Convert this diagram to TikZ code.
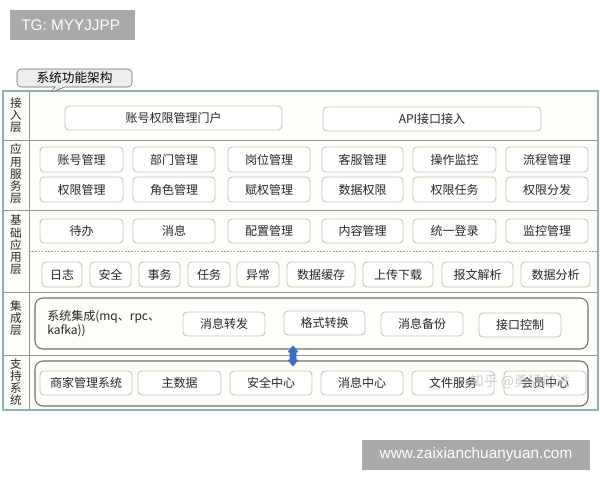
\documentclass[tikz,border=0pt]{standalone}
\usepackage{fontspec}
\setmainfont{Noto Sans CJK SC}
\newfontfamily\wmfont{Liberation Sans}
\usetikzlibrary{shapes.callouts}
\definecolor{frameC}{HTML}{8FB3B3}
\definecolor{sepC}{HTML}{8A9A9A}
\definecolor{bxC}{HTML}{C9C8B4}
\definecolor{grpC}{HTML}{707070}
\definecolor{bgC}{HTML}{FDFDF9}
\definecolor{arrC}{HTML}{3A6CC0}
\definecolor{wmC}{HTML}{A9A9A9}
\tikzset{
  bx/.style={draw=bxC, line width=0.7pt, rounded corners=3pt, fill=white, inner sep=0pt, font=\fontsize{9}{10}\selectfont, text=black!85},
  grp/.style={draw=grpC, line width=0.8pt, rounded corners=6pt, inner sep=0pt},
  lyr/.style={font=\fontsize{8.7}{9.2}\selectfont, align=center, text=black!85, inner sep=0pt},
  wm/.style={fill=wmC, text=white, font=\wmfont\fontsize{11.5}{13}\selectfont, inner sep=0pt, anchor=north west},
  fatarrow/.style={fill=arrC, draw=arrC, line width=0.4pt, line join=round}
}
\newcommand\bxn[6]{\node[bx, minimum width={(#4-#2)*0.75pt}, minimum height={(#5-#3)*0.75pt}] (#1) at ({(#2+#4)/2},{(#3+#5)/2}) {#6};}
\newcommand\grpn[5]{\node[grp, minimum width={(#4-#2)*0.75pt}, minimum height={(#5-#3)*0.75pt}] (#1) at ({(#2+#4)/2},{(#3+#5)/2}) {};}
\begin{document}
\begin{tikzpicture}[x=0.75pt,y=-0.75pt]
\useasboundingbox (0,0) rectangle (600,480);
\fill[white] (0,0) rectangle (600,480);
% outer frame
\draw[frameC, line width=0.9pt, fill=bgC] (3,91) rectangle (598,410);
\draw[sepC, line width=0.6pt] (29,91) -- (29,410);
\foreach \yy in {140,210,292,355} \draw[sepC, line width=0.6pt] (3,\yy) -- (598,\yy);
\draw[sepC, line width=0.6pt, dash pattern=on 1.2pt off 1.2pt] (29,251) -- (598,251);
% title callout
\node[rectangle callout, callout absolute pointer={(50,93)}, draw=black!60, fill=black!7, rounded corners=3pt, minimum width=86.25pt, minimum height=13.5pt, inner sep=0pt, font=\fontsize{9.5}{10}\selectfont] (title) at (74.5,78) {系统功能架构};
% layer labels
\node[lyr] (l1) at (16,115) {接\\入\\层};
\node[lyr] (l2) at (16,174) {应\\用\\服\\务\\层};
\node[lyr] (l3) at (16,245) {基\\础\\应\\用\\层};
\node[lyr] (l4) at (16,318) {集\\成\\层};
\node[lyr] (l5) at (16,382) {支\\持\\系\\统};
% access layer
\bxn{a1}{65}{106}{282}{130}{账号权限管理门户}
\bxn{a2}{323}{107}{541}{131}{API接口接入}
% application service layer
\bxn{s1}{40}{147}{123}{172}{账号管理}
\bxn{s2}{133}{147}{215}{172}{部门管理}
\bxn{s3}{228}{147}{310}{172}{岗位管理}
\bxn{s4}{322}{147}{403}{172}{客服管理}
\bxn{s5}{413}{147}{496}{172}{操作监控}
\bxn{s6}{506}{147}{588}{172}{流程管理}
\bxn{s7}{40}{177}{123}{202}{权限管理}
\bxn{s8}{133}{177}{215}{202}{角色管理}
\bxn{s9}{228}{177}{310}{202}{赋权管理}
\bxn{s10}{322}{177}{403}{202}{数据权限}
\bxn{s11}{413}{177}{496}{202}{权限任务}
\bxn{s12}{506}{177}{588}{202}{权限分发}
% base application layer
\bxn{b1}{40}{219}{123}{243}{待办}
\bxn{b2}{133}{219}{215}{243}{消息}
\bxn{b3}{228}{219}{310}{243}{配置管理}
\bxn{b4}{322}{219}{403}{243}{内容管理}
\bxn{b5}{413}{219}{496}{243}{统一登录}
\bxn{b6}{506}{219}{588}{243}{监控管理}
\bxn{c1}{42}{262}{82}{287}{日志}
\bxn{c2}{90}{262}{131}{287}{安全}
\bxn{c3}{139}{262}{180}{287}{事务}
\bxn{c4}{188}{262}{230}{287}{任务}
\bxn{c5}{237}{262}{279}{287}{异常}
\bxn{c6}{287}{262}{355}{287}{数据缓存}
\bxn{c7}{363}{262}{433}{287}{上传下载}
\bxn{c8}{442}{262}{513}{287}{报文解析}
\bxn{c9}{521}{262}{590}{287}{数据分析}
% integration layer
\grpn{g1}{35}{298}{588}{349}
\node[anchor=west, align=left, inner sep=0pt, font=\fontsize{9}{10.5}\selectfont, text=black!85] (int) at (47,324) {系统集成(mq、rpc、\\kafka))};
\bxn{i1}{183}{312}{265}{336}{消息转发}
\bxn{i2}{284}{311}{365}{335}{格式转换}
\bxn{i3}{381}{312}{463}{336}{消息备份}
\bxn{i4}{479}{313}{561}{337}{接口控制}
% support systems
\grpn{g2}{35}{361}{588}{406}
\bxn{p1}{40}{371}{132}{395}{商家管理系统}
\bxn{p2}{138}{371}{221}{395}{主数据}
\bxn{p3}{230}{371}{312}{395}{安全中心}
\bxn{p4}{321}{371}{403}{395}{消息中心}
\bxn{p5}{412}{371}{494}{395}{文件服务}
\bxn{p6}{504}{371}{586}{395}{会员中心}
% fat double arrow between integration and support
\coordinate (arrtop) at (293,346);
\coordinate (arrbot) at (293,366);
\fill[fatarrow] (arrtop) -- ++(5,6) -- ++(-2,0) -- ++(0,8) -- ++(2,0) -- (arrbot) -- ++(-5,-6) -- ++(2,0) -- ++(0,-8) -- ++(-2,0) -- cycle;
% watermarks
\node[opacity=0.55, text=black!35, font=\fontsize{10.5}{11}\selectfont, inner sep=0pt] (zh) at (520,382) {知乎 @勇猛前进};
\node[wm, minimum width=93.75pt, minimum height=22.5pt] (tg) at (10,10) {};
\node[anchor=west, text=white, font=\wmfont\fontsize{11.5}{13}\selectfont, inner sep=0pt] (tgt) at (21,25) {TG: MYYJJPP};
\node[wm, minimum width=171pt, minimum height=22.5pt] (url) at (362,440) {};
\node[text=white, font=\wmfont\fontsize{11.5}{13}\selectfont, inner sep=0pt] (urlt) at (476,455) {www.zaixianchuanyuan.com};
\end{tikzpicture}
\end{document}
